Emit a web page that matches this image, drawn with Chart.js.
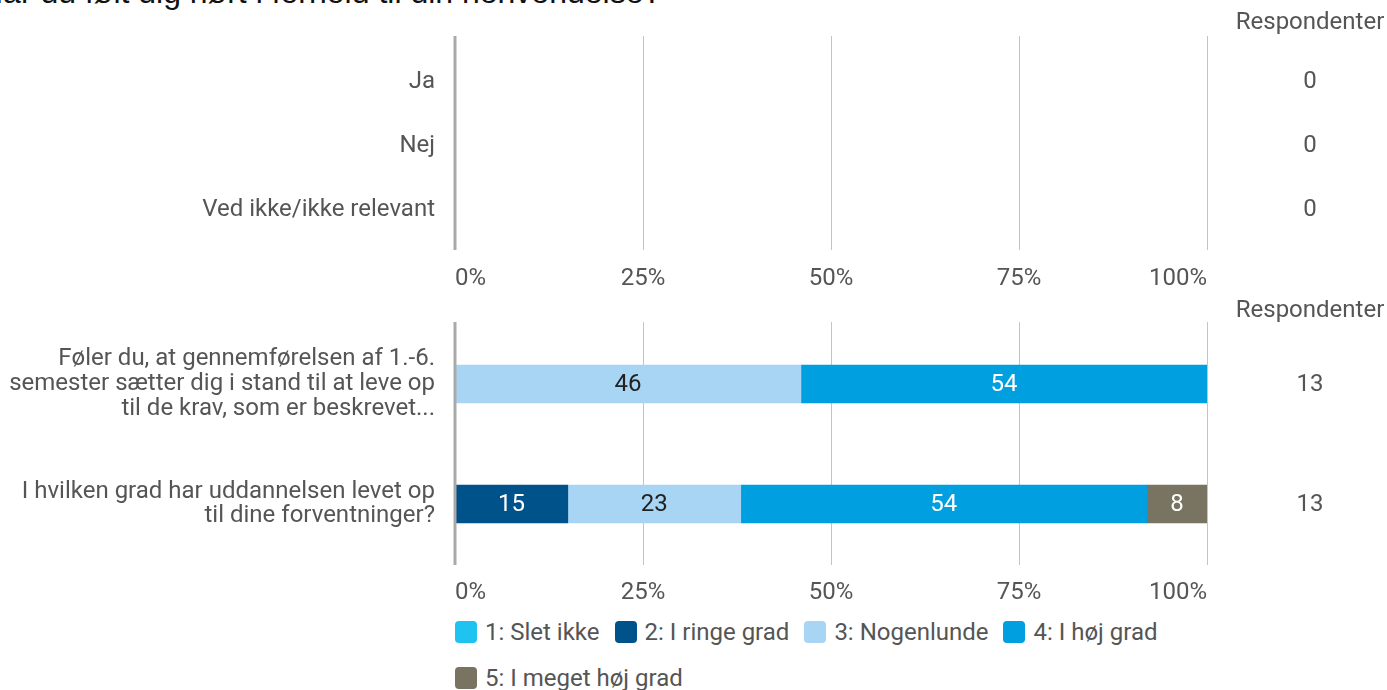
<!DOCTYPE html>
<html>
<head>
<meta charset="utf-8">
<script src="https://cdn.jsdelivr.net/npm/chart.js@4/dist/chart.umd.min.js"></script>
<style>
  body { margin: 0; width: 1387px; height: 690px; overflow: hidden; background: #fff; position: relative; font-family: Roboto, sans-serif; }
  #title { position: absolute; left: -20px; top: -24px; font: 32px "Liberation Sans", Arial, sans-serif; line-height: 32px; color: #111; white-space: nowrap; }
  #topChart { position: absolute; left: 0; top: 0; }
  #bottomChart { position: absolute; left: 0; top: 300px; }
  #legend { position: absolute; left: 455px; top: 619px; width: 760px; display: flex; flex-wrap: wrap; column-gap: 15px; row-gap: 20px; }
  .item { display: flex; align-items: center; height: 26px; font-size: 24px; color: #555; }
  .box { width: 22px; height: 22px; border-radius: 4px; margin-right: 8px; }
</style>
</head>
<body>
<div id="title">Har du følt dig hørt i forhold til din henvendelse?</div>
<canvas id="topChart" width="1387" height="300"></canvas>
<canvas id="bottomChart" width="1387" height="310"></canvas>
<div id="legend"></div>
<script>
// top block
const topCategories = ['Ja', 'Nej', 'Ved ikke/ikke relevant'];
const topValues = [0, 0, 0];
const topRespondents = [0, 0, 0];

// bottom block
const questions = [
  ['Føler du, at gennemførelsen af 1.-6.', 'semester sætter dig i stand til at leve op', 'til de krav, som er beskrevet...'],
  ['I hvilken grad har uddannelsen levet op', 'til dine forventninger?']
];
const answerLabels = ['1: Slet ikke', '2: I ringe grad', '3: Nogenlunde', '4: I høj grad', '5: I meget høj grad'];
const answerColors = ['#1fc3f2', '#00528a', '#a9d5f5', '#009fe0', '#787461'];
const valueTextColors = ['#fff', '#fff', '#222', '#fff', '#fff'];
const sletIkke = [0, 0];
const iRingeGrad = [0, 15];
const nogenlunde = [46, 23];
const iHoejGrad = [54, 54];
const iMegetHoejGrad = [0, 8];
const bottomRespondents = [13, 13];

const xTicks = [0, 25, 50, 75, 100];

const FONT = 'Roboto, sans-serif';
const TEXT = '#555';

// gridlines that run a bit past the plot area, plus the thick left axis
const gridPlugin = {
  id: 'extGrid',
  beforeDatasetsDraw(chart, args, opts) {
    const { ctx, chartArea, scales } = chart;
    ctx.save();
    ctx.strokeStyle = '#c4c4c4';
    ctx.lineWidth = 1;
    xTicks.slice(1).forEach(t => {
      const x = Math.round(scales.x.getPixelForValue(t)) + 0.5;
      ctx.beginPath();
      ctx.moveTo(x, chartArea.top - opts.extTop);
      ctx.lineTo(x, chartArea.bottom + opts.extBottom);
      ctx.stroke();
    });
    ctx.restore();
  },
  afterDatasetsDraw(chart, args, opts) {
    const { ctx, chartArea, scales } = chart;
    ctx.save();
    ctx.strokeStyle = '#aaaaaa';
    ctx.lineWidth = 3;
    const x = scales.x.getPixelForValue(0);
    ctx.beginPath();
    ctx.moveTo(x, chartArea.top - opts.extTop);
    ctx.lineTo(x, chartArea.bottom + opts.extBottom);
    ctx.stroke();
    ctx.restore();
  }
};

// values inside the bars
const valuePlugin = {
  id: 'barValues',
  afterDatasetsDraw(chart) {
    const { ctx } = chart;
    ctx.save();
    ctx.font = '24px ' + FONT;
    ctx.textAlign = 'center';
    ctx.textBaseline = 'middle';
    chart.data.datasets.forEach((ds, i) => {
      const meta = chart.getDatasetMeta(i);
      meta.data.forEach((el, j) => {
        const v = ds.data[j];
        if (!v) return;
        ctx.fillStyle = valueTextColors[i] || '#fff';
        ctx.fillText(String(v), (el.x + el.base) / 2, el.y + 1);
      });
    });
    ctx.restore();
  }
};

// "Respondenter" column on the right
const respPlugin = {
  id: 'respondents',
  afterDraw(chart, args, opts) {
    const { ctx, chartArea, scales } = chart;
    const cx = chartArea.right + 103;
    ctx.save();
    ctx.font = '24px ' + FONT;
    ctx.fillStyle = TEXT;
    ctx.textAlign = 'center';
    ctx.textBaseline = 'middle';
    ctx.fillText('Respondenter', cx, opts.headerY);
    opts.counts.forEach((n, i) => {
      ctx.fillText(String(n), cx, scales.y.getPixelForValue(i) + opts.shift);
    });
    ctx.restore();
  }
};

function baseOptions(yPadTop, xHeight, tickPad, labelShift) {
  return {
    indexAxis: 'y',
    responsive: false,
    animation: false,
    layout: { padding: { top: yPadTop, right: 180, left: 0, bottom: 0 } },
    plugins: {
      legend: { display: false },
      tooltip: { enabled: false }
    },
    scales: {
      x: {
        stacked: true,
        min: 0,
        max: 100,
        grid: { display: false, drawTicks: false },
        border: { display: false },
        afterFit: s => { s.height = xHeight; s.paddingLeft = 0; s.paddingRight = 0; },
        ticks: {
          stepSize: 25,
          align: 'inner',
          padding: tickPad,
          color: TEXT,
          font: { family: FONT, size: 24 },
          callback: v => v + '%'
        }
      },
      y: {
        stacked: true,
        grid: { display: false, drawTicks: false },
        border: { display: false },
        afterFit: s => { s.width = 455; s.paddingTop = 0; s.paddingBottom = 0; },
        ticks: {
          padding: 20,
          labelOffset: labelShift,
          color: TEXT,
          font: { family: FONT, size: 24, lineHeight: 1.04 }
        }
      }
    }
  };
}

const topOpts = baseOptions(48, 60, 25, 2);
topOpts.plugins.extGrid = { extTop: 12, extBottom: 10 };
topOpts.plugins.respondents = { headerY: 23, counts: topRespondents, shift: 2 };

new Chart(document.getElementById('topChart').getContext('2d'), {
  type: 'bar',
  data: {
    labels: topCategories,
    datasets: [{ label: 'Andel', data: topValues, backgroundColor: answerColors[3], barThickness: 38 }]
  },
  options: topOpts,
  plugins: [gridPlugin, valuePlugin, respPlugin]
});

const bottomSeries = [sletIkke, iRingeGrad, nogenlunde, iHoejGrad, iMegetHoejGrad];
const botOpts = baseOptions(24, 46, 15, 0);
botOpts.plugins.extGrid = { extTop: 2, extBottom: 1 };
botOpts.plugins.respondents = { headerY: 11, counts: bottomRespondents, shift: 1 };

new Chart(document.getElementById('bottomChart').getContext('2d'), {
  type: 'bar',
  data: {
    labels: questions,
    datasets: bottomSeries.map((d, i) => ({
      label: answerLabels[i],
      data: d,
      backgroundColor: answerColors[i],
      barThickness: 38
    }))
  },
  options: botOpts,
  plugins: [gridPlugin, valuePlugin, respPlugin]
});

// legend
const legend = document.getElementById('legend');
answerLabels.forEach((lab, i) => {
  const item = document.createElement('div');
  item.className = 'item';
  const box = document.createElement('span');
  box.className = 'box';
  box.style.background = answerColors[i];
  item.appendChild(box);
  item.appendChild(document.createTextNode(lab));
  legend.appendChild(item);
});
</script>
</body>
</html>
